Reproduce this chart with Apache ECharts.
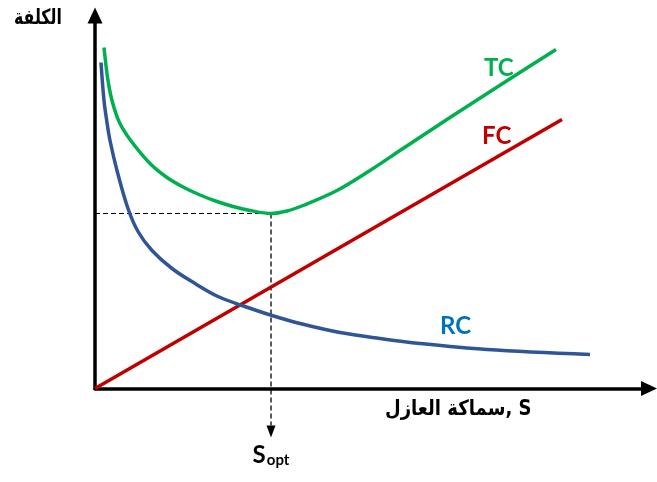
<!DOCTYPE html>
<html>
<head>
<meta charset="utf-8">
<script src="https://cdn.jsdelivr.net/npm/echarts@6/dist/echarts.min.js"></script>
<style>html,body{margin:0;padding:0;background:#fff}#c{width:657px;height:482px}</style>
</head>
<body>
<div id="c"></div>
<script>
// Arbitrary units: insulation thickness S (x) and cost (y)
var tcX = [9, 11, 13, 17, 24, 35, 55, 72, 88, 105, 122, 138, 155, 176, 192, 208, 242, 275, 308, 355, 417, 461];
var tcY = [341, 323, 308, 288, 267, 249, 225, 211, 201.5, 193.5, 187, 182, 178, 175, 177.5, 183, 198, 218, 240, 271, 311, 339];
var fcX = [0, 467];
var fcY = [0, 269];
var rcX = [6, 9, 12, 15, 22, 33, 43, 57, 77, 100, 123, 147, 177, 205, 245, 285, 325, 392, 495];
var rcY = [326, 288, 266, 248, 218, 180, 157, 138, 120, 105, 92, 83, 73, 65, 56, 50, 45, 39, 34];
var yTitle = 'الكلفة';
var xTitle = 'سماكة العازل, S';
var seriesNames = ['TC', 'FC', 'RC'];

function pairs(xs, ys) { return xs.map(function (x, i) { return [x, ys[i]]; }); }
var iMin = 0;
tcY.forEach(function (v, i) { if (v < tcY[iMin]) iMin = i; });
var xOpt = tcX[iMin], yOpt = tcY[iMin];

var arabicFont = '"DejaVu Sans", sans-serif';
var latinFont = 'Lato, "Open Sans", sans-serif';
var lw = 3.5;

var chart = echarts.init(document.getElementById('c'));
chart.setOption({
  animation: false,
  backgroundColor: '#fff',
  grid: { left: 95, right: 8, top: 15.5, bottom: 93.5 },
  xAxis: {
    type: 'value', min: 0, max: 554,
    axisLine: { show: true, lineStyle: { color: '#000', width: 3.5 }, symbol: ['none', 'triangle'], symbolSize: [15, 16] },
    axisTick: { show: false }, axisLabel: { show: false }, splitLine: { show: false }
  },
  yAxis: {
    type: 'value', min: 0, max: 373,
    axisLine: { show: true, onZero: false, lineStyle: { color: '#000', width: 3.5 }, symbol: ['none', 'triangle'], symbolSize: [15, 16] },
    axisTick: { show: false }, axisLabel: { show: false }, splitLine: { show: false }
  },
  series: [
    {
      name: 'guideH', type: 'line', clip: false, silent: true,
      data: [[0, yOpt], [xOpt, yOpt]], showSymbol: false, symbol: 'none',
      lineStyle: { color: '#000', width: 1, type: [5, 3] }
    },
    {
      name: 'guideV', type: 'line', clip: false, silent: true,
      data: [[xOpt, yOpt], [xOpt, -37]], showSymbol: false, symbol: 'none',
      lineStyle: { color: '#000', width: 1.3, type: [5, 3] }
    },
    {
      name: 'arrow', type: 'scatter', clip: false, silent: true,
      data: [[xOpt, -43]], symbol: 'triangle', symbolRotate: 180, symbolSize: [9, 12],
      itemStyle: { color: '#000', opacity: 1 },
      label: {
        show: true, position: 'bottom', distance: 4, fontWeight: 'bold', fontFamily: latinFont,
        formatter: '{s|S}{o|opt}',
        rich: {
          s: { fontFamily: latinFont, fontWeight: 'bold', fontSize: 24, color: '#000', verticalAlign: 'bottom', lineHeight: 26 },
          o: { fontFamily: latinFont, fontWeight: 'bold', fontSize: 15, color: '#000', verticalAlign: 'bottom', lineHeight: 26, padding: [0, 0, 0, 1] }
        }
      }
    },
    { name: seriesNames[1], type: 'line', data: pairs(fcX, fcY), showSymbol: false, symbol: 'none', lineStyle: { color: '#c00000', width: lw } },
    { name: seriesNames[2], type: 'line', smooth: 0.35, data: pairs(rcX, rcY), showSymbol: false, symbol: 'none', lineStyle: { color: '#2f5597', width: lw } },
    { name: seriesNames[0], type: 'line', smooth: 0.35, data: pairs(tcX, tcY), showSymbol: false, symbol: 'none', lineStyle: { color: '#00b050', width: lw } }
  ],
  graphic: [
    { type: 'text', x: 14, y: 8, scaleX: 0.75, style: { text: yTitle, font: 'bold 21px ' + arabicFont, fill: '#000' } },
    { type: 'text', x: 385, y: 399, scaleX: 0.86, style: { text: xTitle, font: 'bold 21px ' + arabicFont, fill: '#000' } },
    { type: 'text', left: 484, top: 56, style: { text: seriesNames[0], font: 'bold 24px ' + latinFont, fill: '#00b050' } },
    { type: 'text', left: 482, top: 124, style: { text: seriesNames[1], font: 'bold 24px ' + latinFont, fill: '#c00000' } },
    { type: 'text', left: 440, top: 314, style: { text: seriesNames[2], font: 'bold 24px ' + latinFont, fill: '#0070c0' } }
  ]
});
</script>
</body>
</html>
